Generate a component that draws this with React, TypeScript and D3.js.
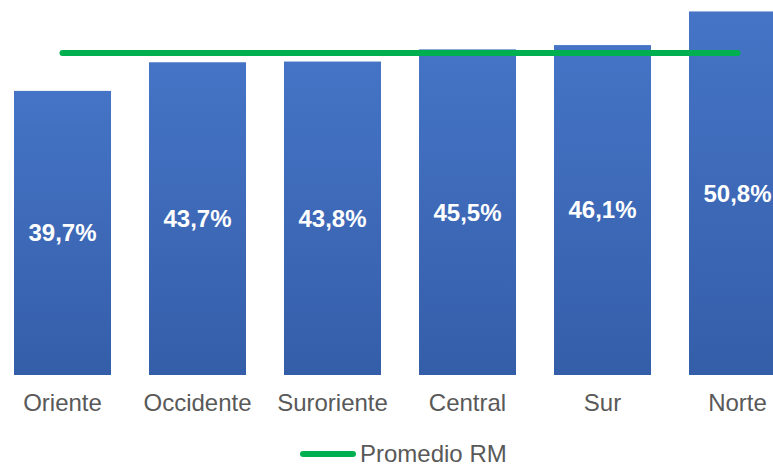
import React from "react";
import * as d3 from "d3";

const categories = ["Oriente", "Occidente", "Suroriente", "Central", "Sur", "Norte"];
const values = [39.7, 43.7, 43.8, 45.5, 46.1, 50.8];
const averageRM = 45.0;
const legendLabel = "Promedio RM";

const W = 773;
const H = 466;

export default function App() {
  const x = d3
    .scaleBand<string>()
    .domain(categories)
    .range([-5, 805])
    .paddingInner(38 / 135)
    .paddingOuter(19 / 135);
  const y = d3.scaleLinear().domain([0, 52.4]).range([375, 0]);
  const fmt = (v: number) => v.toFixed(1).replace(".", ",") + "%";
  const font = "Arial, 'Liberation Sans', sans-serif";
  const first = categories[0];
  const last = categories[categories.length - 1];
  const avgLine = d3.line<[number, number]>()([
    [x(first)! + x.bandwidth() / 2, y(averageRM)],
    [x(last)! + x.bandwidth() / 2, y(averageRM)],
  ]);

  return (
    <svg
      width={W}
      height={H}
      style={{ position: "absolute", left: 0, top: 0, background: "#fff" }}
      fontFamily={font}
    >
      <defs>
        <linearGradient id="barGrad" x1="0" y1="0" x2="0" y2="1">
          <stop offset="0" stopColor="#4574C6" />
          <stop offset="1" stopColor="#355EA9" />
        </linearGradient>
      </defs>
      {categories.map((c, i) => (
        <rect
          key={c}
          x={x(c)}
          y={y(values[i])}
          width={x.bandwidth()}
          height={y(0) - y(values[i])}
          fill="url(#barGrad)"
        />
      ))}
      <path d={avgLine!} stroke="#00B050" strokeWidth={6} strokeLinecap="round" fill="none" />
      {categories.map((c, i) => (
        <text
          key={"l" + c}
          x={x(c)! + x.bandwidth() / 2}
          y={(y(values[i]) + y(0)) / 2}
          dy="0.35em"
          textAnchor="middle"
          fill="#fff"
          fontWeight="bold"
          fontSize={24}
        >
          {fmt(values[i])}
        </text>
      ))}
      {categories.map((c) => (
        <text
          key={"a" + c}
          x={x(c)! + x.bandwidth() / 2}
          y={411}
          textAnchor="middle"
          fill="#595959"
          fontSize={24}
        >
          {c}
        </text>
      ))}
      <line x1={303} x2={353} y1={454} y2={454} stroke="#00B050" strokeWidth={6} strokeLinecap="round" />
      <text x={360} y={462} fill="#595959" fontSize={24}>
        {legendLabel}
      </text>
    </svg>
  );
}
